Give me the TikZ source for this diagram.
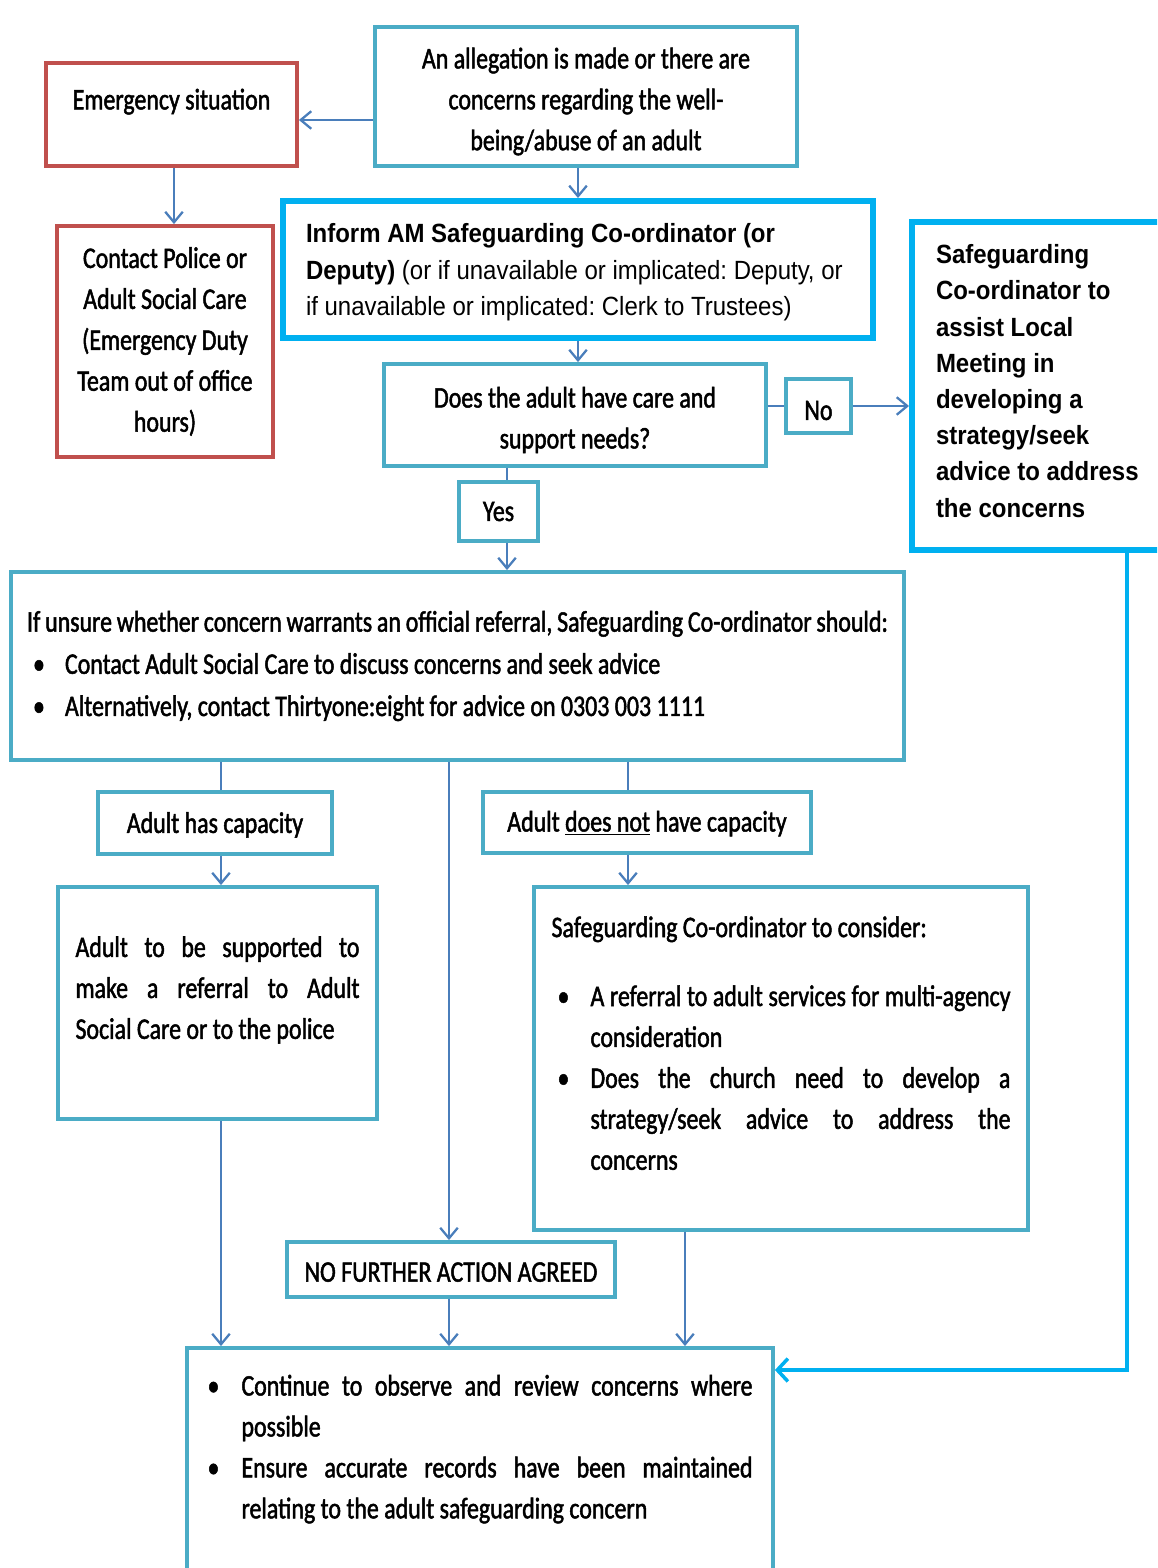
\documentclass[tikz,border=0pt]{standalone}
\usepackage{fontspec}
\setmainfont[FakeStretch=0.8,FakeBold=1.6]{Carlito}
\newfontfamily\arialfont[FakeStretch=0.91]{Liberation Sans}
\usetikzlibrary{arrows.meta}

\definecolor{boxred}{HTML}{C0504D}
\definecolor{boxteal}{HTML}{4BACC6}
\definecolor{boxblue}{HTML}{00B0F0}
\definecolor{arrblue}{HTML}{4A7EBB}

\frenchspacing
\newdimen\pxd \pxd=0.02cm
\newcommand{\calsize}{\fontsize{17pt}{23.3pt}\selectfont}
\newcommand{\arsize}{\arialfont\fontsize{15pt}{20.6pt}\selectfont}
% bullet paragraph: #1 bullet offset, #2 text indent
\newcommand{\bul}[2]{\noindent\hangindent=#2\hangafter=1\hbox to #2{\hskip #1\textbullet\hfil}\ignorespaces}
\newcommand{\lift}[1][17.5pt]{\rule{0pt}{#1}}
\newcommand{\padbelow}[1]{\par\vskip #1\hrule height 0pt width 0pt}

\tikzset{
  boxsize/.style 2 args={minimum width=#1\pxd, minimum height=#2\pxd},
  redbox/.style={draw=boxred, line width=2.2pt, inner sep=0pt},
  tealbox/.style={draw=boxteal, line width=2.2pt, inner sep=0pt},
  bluebox/.style={draw=boxblue, line width=3.4pt, inner sep=0pt},
  link/.style={draw=arrblue, line width=1.3pt},
  back/.style={draw=boxblue, line width=2pt, >={Straight Barb[length=6pt,width=13pt]}}
}

\begin{document}
\begin{tikzpicture}[x=0.02cm, y=-0.02cm, font=\calsize, >={Straight Barb[length=6pt,width=10pt]}]
\useasboundingbox (0,0) rectangle (1157,1568);
\clip (0,0) rectangle (1157,1568);

% boxes
\node [redbox, boxsize={251}{103}, align=center] (emerg) at (171.5,114.5) {\lift Emergency situation\\\mbox{}};
\node [tealbox, boxsize={422}{139}, align=center] (alleg) at (586,96.5) {\lift An allegation is made or there are\\concerns regarding the well-\\being/abuse of an adult};
\node [redbox, boxsize={216}{231}, align=center] (contact) at (165,341.5) {Contact Police or\\Adult Social Care\\(Emergency Duty\\Team out of office\\hours)};
\node [bluebox, boxsize={590}{137}, text width=544\pxd, align=flush left, font=\arsize] (inform) at (578,269.5) {\lift[14pt]\textbf{Inform AM Safeguarding Co-ordinator (or}\\\textbf{Deputy)} (or if unavailable or implicated: Deputy, or\\if unavailable or implicated: Clerk to Trustees)};
\node [tealbox, boxsize={382}{102}, align=center] (does) at (575,415) {\lift Does the adult have care and\\support needs?};
\node [tealbox, boxsize={65}{54}] (no) at (818.5,406) {\lift[16pt]No};
\node [bluebox, boxsize={288}{328}, text width=240\pxd, align=flush left, font=\arsize\bfseries] (safe) at (1056,386) {Safeguarding\\Co-ordinator to\\assist Local\\Meeting in\\developing a\\strategy/seek\\advice to address\\the concerns\padbelow{10\pxd}};
\node [tealbox, boxsize={79}{59}] (yes) at (498.5,511.5) {Yes};
\node [tealbox, boxsize={893}{188}, text width=861\pxd, align=flush left, font=\fontsize{17pt}{24pt}\selectfont] (unsure) at (457.5,666) {If unsure whether concern warrants an official referral, Safeguarding Co-ordinator should:
  \par\bul{6\pxd}{38\pxd}Contact Adult Social Care to discuss concerns and seek advice
  \par\bul{6\pxd}{38\pxd}Alternatively, contact Thirtyone:eight for advice on 0303 003 1111};
\node [tealbox, boxsize={234}{62}] (hascap) at (215,823) {\lift[14pt]Adult has capacity};
\node [tealbox, boxsize={328}{61}] (notcap) at (647,822.5) {\lift[13pt]Adult \underline{does not} have capacity};
\node [tealbox, boxsize={319}{232}, text width=284\pxd, align=justify] (support) at (217.5,1003) {\lift Adult to be supported to\linebreak make a referral to Adult\linebreak Social Care or to the police\par\mbox{}};
\node [tealbox, boxsize={494}{343}, text width=459\pxd, align=justify] (consider) at (781,1058.5) {\lift Safeguarding Co-ordinator to consider:\par\vskip 28\pxd
  \bul{6\pxd}{39\pxd}A referral to adult services for multi-agency\linebreak consideration
  \par\bul{6\pxd}{39\pxd}Does the church need to develop a\linebreak strategy/seek advice to address the\linebreak concerns\par\mbox{}};
\node [tealbox, boxsize={328}{55}] (nfa) at (451,1269.5) {\lift[14pt]NO FURTHER ACTION AGREED};
\node [tealbox, boxsize={586}{248}, text width=545\pxd, align=justify] (final) at (480,1472) {\bul{0pt}{34\pxd}Continue to observe and review concerns where\linebreak possible
  \par\bul{0pt}{34\pxd}Ensure accurate records have been maintained\linebreak relating to the adult safeguarding concern\par\mbox{}\padbelow{10\pxd}};

% columns the links run along
\coordinate (rowE) at (0,120);
\coordinate (colE) at (174,0);
\coordinate (colI) at (578,0);
\coordinate (colY) at (507,0);
\coordinate (colS) at (221,0);
\coordinate (colB) at (449,0);
\coordinate (colN) at (628,0);
\coordinate (colC) at (685,0);
\coordinate (ret) at (1127,1370);

% links
\path [link, ->] (alleg.west |- rowE) -- (emerg.east |- rowE);
\path [link, ->] (emerg.south -| colE) -- (contact.north -| colE);
\path [link, ->] (alleg.south -| colI) -- (inform.north -| colI);
\path [link, ->] (inform.south -| colI) -- (does.north -| colI);
\path [link] (does.east |- no.west) -- (no.west);
\path [link, ->] (no.east) -- (safe.west |- no.east);
\path [link] (does.south -| colY) -- (yes.north -| colY);
\path [link, ->] (yes.south -| colY) -- (unsure.north -| colY);
\path [link] (unsure.south -| colS) -- (hascap.north -| colS);
\path [link, ->] (hascap.south -| colS) -- (support.north -| colS);
\path [link, ->] (unsure.south -| colB) -- (nfa.north -| colB);
\path [link] (unsure.south -| colN) -- (notcap.north -| colN);
\path [link, ->] (notcap.south -| colN) -- (consider.north -| colN);
\path [link, ->] (support.south -| colS) -- (final.north -| colS);
\path [link, ->] (nfa.south -| colB) -- (final.north -| colB);
\path [link, ->] (consider.south -| colC) -- (final.north -| colC);
\path [back, ->] (safe.south -| ret) -- (ret) -- (final.east |- ret);
\end{tikzpicture}
\end{document}
